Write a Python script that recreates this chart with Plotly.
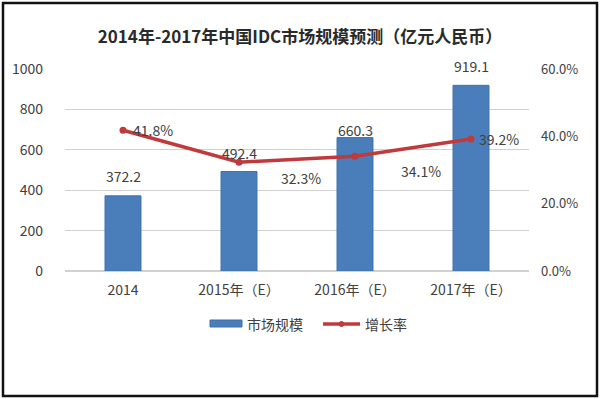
import plotly.graph_objects as go

categories = ["2014", "2015年（E）", "2016年（E）", "2017年（E）"]
market_size = [372.2, 492.4, 660.3, 919.1]
size_labels = ["372.2", "492.4", "660.3", "919.1"]
growth_rate = [41.8, 32.3, 34.1, 39.2]
growth_labels = ["41.8%", "32.3%", "34.1%", "39.2%"]
left_ticks = [0, 200, 400, 600, 800, 1000]
right_ticks = [0, 20, 40, 60]
right_tick_labels = ["0.0%", "20.0%", "40.0%", "60.0%"]
series_names = ["市场规模", "增长率"]

BAR = "#4a7ebb"
RED = "#c0393b"
TXT = "#404040"
FONT = "Noto Sans CJK SC, Open Sans, sans-serif"
FS = 14

W, H = 600, 399
L, R, T, B = 65, 71, 69, 128
pw, ph = W - L - R, H - T - B


def px(x):
    return (x - L) / pw


def py(y):
    return (H - B - y) / ph


fig = go.Figure()
fig.add_trace(go.Bar(
    x=categories, y=market_size, name=series_names[0],
    marker=dict(color=BAR, line=dict(color="#3f70aa", width=1)),
    width=0.31,
))
fig.add_trace(go.Scatter(
    x=categories, y=growth_rate, name=series_names[1], yaxis="y2",
    mode="lines+markers",
    line=dict(color=RED, width=3.5),
    marker=dict(color=RED, size=7),
    cliponaxis=False,
))

bar_label_shift = [20, 19, 8, 19]
for i, (v, lab, dy) in enumerate(zip(market_size, size_labels, bar_label_shift)):
    fig.add_annotation(x=i, y=v, xref="x", yref="y", text=lab, showarrow=False,
                       xanchor="center", yanchor="middle", yshift=dy,
                       font=dict(size=FS, color=TXT, family=FONT))

shifts = [(8, 0), (40, -16), (44, -15), (6, 0)]
for i, (v, lab, (dx, dy)) in enumerate(zip(growth_rate, growth_labels, shifts)):
    fig.add_annotation(x=i, y=v, xref="x", yref="y2", text=lab, showarrow=False,
                       xanchor="left", yanchor="middle", xshift=dx, yshift=dy,
                       font=dict(size=FS, color=TXT, family=FONT))

# custom legend
fig.add_shape(type="rect", xref="paper", yref="paper",
              x0=px(210), x1=px(242), y0=py(327), y1=py(320),
              line=dict(color="#3f70aa", width=1), fillcolor=BAR)
fig.add_annotation(xref="paper", yref="paper", x=px(245), y=py(324),
                   text=series_names[0], showarrow=False, xanchor="left",
                   yanchor="middle", font=dict(size=FS, color=TXT, family=FONT))
fig.add_shape(type="line", xref="paper", yref="paper",
              x0=px(323), x1=px(360), y0=py(324), y1=py(324),
              line=dict(color=RED, width=3.5))
fig.add_shape(type="circle", xref="paper", yref="paper",
              x0=px(339), x1=px(344), y0=py(326.5), y1=py(321.5),
              line=dict(color=RED, width=1), fillcolor=RED)
fig.add_annotation(xref="paper", yref="paper", x=px(363), y=py(324),
                   text=series_names[1], showarrow=False, xanchor="left",
                   yanchor="middle", font=dict(size=FS, color=TXT, family=FONT))

# outer frame
fig.add_shape(type="rect", xref="paper", yref="paper",
              x0=px(3), x1=px(597), y0=py(396), y1=py(3),
              line=dict(color="#111111", width=2.5), fillcolor="rgba(0,0,0,0)")

fig.update_layout(
    width=W, height=H,
    margin=dict(l=L, r=R, t=T, b=B, autoexpand=False),
    paper_bgcolor="white", plot_bgcolor="white",
    font=dict(family=FONT, color=TXT, size=FS),
    title=dict(text="<b>2014年-2017年中国IDC市场规模预测（亿元人民币）</b>",
               x=0.5, xanchor="center", y=1 - 37 / H, yanchor="middle",
               font=dict(size=17, color="#2a2a2a", family=FONT)),
    xaxis=dict(type="category", range=[-0.5, len(categories) - 0.5],
               showline=False, ticks="", automargin=False,
               tickfont=dict(size=FS, color=TXT), ticklabelstandoff=9),
    yaxis=dict(range=[0, 1000], tickvals=left_ticks, showgrid=True,
               gridcolor="#d0d0d0", gridwidth=1, zeroline=True,
               zerolinecolor="#d0d0d0", tickfont=dict(size=FS, color=TXT),
               ticklabelstandoff=21, automargin=False),
    yaxis2=dict(range=[0, 60], tickvals=right_ticks, ticktext=right_tick_labels,
                overlaying="y", side="right", showgrid=False, zeroline=False,
                tickfont=dict(size=13, color=TXT), ticklabelstandoff=11,
                automargin=False),
    showlegend=False,
)

fig.write_html("out.html", config={"displayModeBar": False},
               post_script="document.body.style.margin='0';document.body.style.overflow='hidden';")
